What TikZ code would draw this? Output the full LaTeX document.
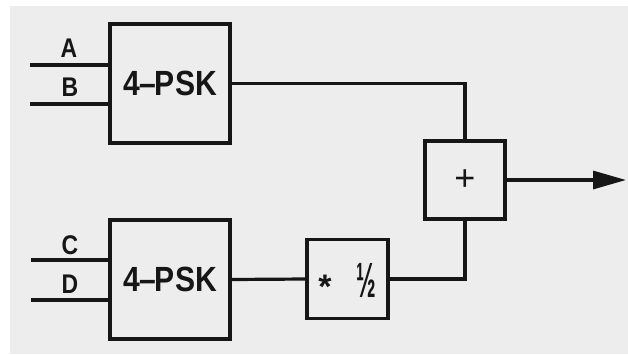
\documentclass[tikz,border=0pt]{standalone}
\usepackage{fontspec}
\setmainfont{Liberation Sans}
\usetikzlibrary{arrows.meta}
\definecolor{paper}{HTML}{EDEDED}
\definecolor{ink}{HTML}{161616}
\tikzset{
  block/.style={draw=ink, line width=3.2pt, inner sep=0pt, rectangle},
  wire/.style={draw=ink, line width=3.2pt},
  lbl/.style={text=ink, font=\bfseries\fontsize{27}{30}\selectfont, inner sep=0pt},
  bigtxt/.style={text=ink, font=\bfseries\fontsize{35}{40}\selectfont},
  sym/.style={text=ink, inner sep=0pt}
}
\begin{document}
\begin{tikzpicture}[x=1pt, y=-1pt]
  % page and paper tone
  \useasboundingbox (0,0) rectangle (628,354);
  \fill[white] (0,0) rectangle (628,354);
  \fill[paper] (10,6) rectangle (628,354);

  % blocks
  \node[block, minimum width=120pt, minimum height=119pt, bigtxt] (psk1) at (170,83.5)
    {\scalebox{0.86}[1]{4\hspace{-1pt}–\hspace{-1pt}PSK}};
  \node[block, minimum width=120pt, minimum height=119pt, bigtxt] (psk2) at (170,279.5)
    {\scalebox{0.86}[1]{4\hspace{-1pt}–\hspace{-1pt}PSK}};
  \node[block, minimum width=81pt, minimum height=79pt] (mult) at (347.5,279) {};
  \node[block, minimum width=80pt, minimum height=78pt] (sum) at (465,180) {};

  % block symbols
  \node[sym, font=\bfseries\fontsize{34}{36}\selectfont] (star) at (325,287) {*};
  \node[sym, font=\bfseries\fontsize{38}{40}\selectfont] (half) at (366,280) {\scalebox{0.62}[1.3]{½}};
  \node[sym, font=\fontsize{36}{40}\selectfont] (plus) at (sum.center) {+};

  % input lines
  \coordinate (ina) at (30,65);
  \coordinate (inb) at (30,104);
  \coordinate (inc) at (31,260);
  \coordinate (ind) at (31,300);
  \draw[wire] (ina) -- (psk1.west |- ina);
  \draw[wire] (inb) -- (psk1.west |- inb);
  \draw[wire] (inc) -- (psk2.west |- inc);
  \draw[wire] (ind) -- (psk2.west |- ind);

  % input labels
  \node[lbl] (la) at (69,48) {\scalebox{0.85}[1]{A}};
  \node[lbl] (lb) at (70,87) {\scalebox{0.85}[1]{B}};
  \node[lbl] (lc) at (70,245) {\scalebox{0.85}[1]{C}};
  \node[lbl] (ld) at (70,284) {\scalebox{0.85}[1]{D}};

  % signal paths
  \draw[wire] (psk1.east) -| (sum.north);
  \draw[wire] (psk2.east) -- (mult.west);
  \draw[wire] (mult.east) -| (sum.south);
  \coordinate (out) at (626,180);
  \draw[wire, -{Triangle[length=33pt, width=18pt]}] (sum.east) -- (out);
\end{tikzpicture}
\end{document}
